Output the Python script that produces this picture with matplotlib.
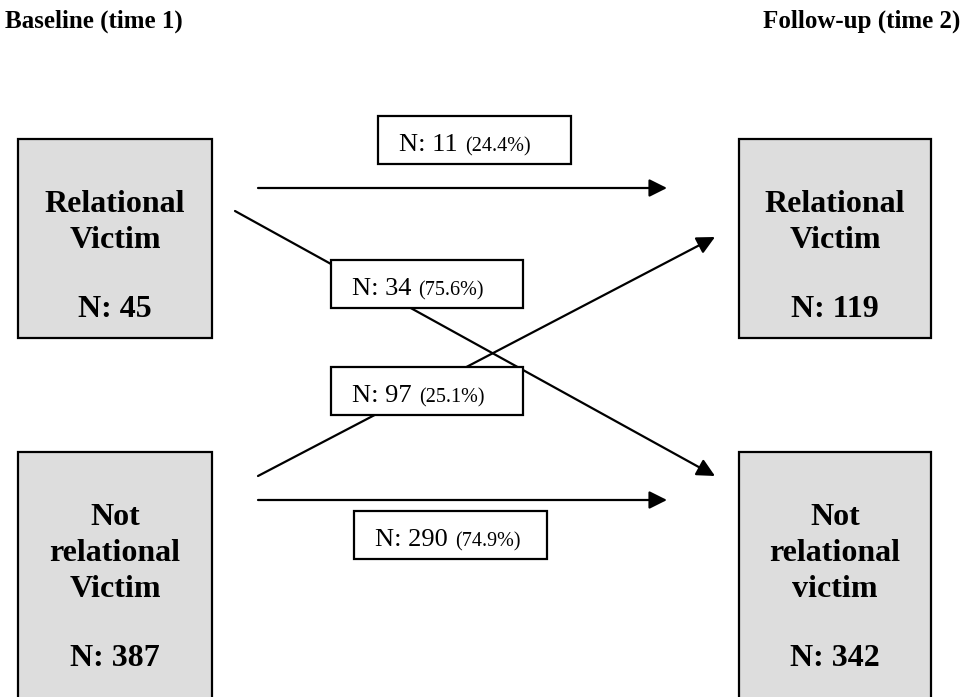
import matplotlib
matplotlib.use("Agg")
import matplotlib.pyplot as plt
from matplotlib.patches import Rectangle

# ---- data ----
titles = ["Baseline (time 1)", "Follow-up (time 2)"]
node_labels = [["Relational", "Victim"],
               ["Not", "relational", "Victim"],
               ["Relational", "Victim"],
               ["Not", "relational", "victim"]]
node_n = [45, 387, 119, 342]
flow_n = [11, 34, 97, 290]
flow_pct = [24.4, 75.6, 25.1, 74.9]

# ---- layout (pixels, y downward) ----
W, H = 965, 697
fig = plt.figure(figsize=(W / 100, H / 100), dpi=100)
ax = fig.add_axes([0, 0, 1, 1])
ax.set_xlim(0, W)
ax.set_ylim(H, 0)
ax.axis("off")

serif = "Liberation Serif"

ax.text(5, 28, titles[0], fontsize=18, fontweight="bold", family=serif,
        ha="left", va="baseline")
ax.text(960, 28, titles[1], fontsize=18, fontweight="bold", family=serif,
        ha="right", va="baseline")

# node boxes: (left, top, width, height, first baseline)
node_boxes = [(18, 139, 194, 199, 212),
              (18, 452, 194, 260, 525),
              (739, 139, 192, 199, 212),
              (739, 452, 192, 260, 525)]
line_gap = 36
for (x, y, w, h, b0), lines, n in zip(node_boxes, node_labels, node_n):
    ax.add_patch(Rectangle((x, y), w, h, facecolor="#dddddd",
                           edgecolor="black", lw=1.6, zorder=1))
    cx = x + w / 2
    for i, s in enumerate(lines):
        ax.text(cx, b0 + i * line_gap, s, fontsize=23, fontweight="bold",
                family=serif, ha="center", va="baseline", zorder=2)
    ax.text(cx, b0 + (len(lines) + 1) * line_gap - 3, f"N: {n}", fontsize=23,
            fontweight="bold", family=serif, ha="center", va="baseline",
            zorder=2)

# arrows: start, end
arrows = [((258, 188), (667, 188)),
          ((235, 211), (715, 476)),
          ((258, 476), (715, 237)),
          ((258, 500), (667, 500))]
for (s, e) in arrows:
    ax.annotate("", xy=e, xytext=s,
                arrowprops=dict(arrowstyle="-|>,head_length=0.4,head_width=0.2",
                                mutation_scale=27, lw=1.6, color="black",
                                shrinkA=0, shrinkB=0), zorder=1)

# flow label boxes: (left, top, width, height)
flow_boxes = [(378, 116, 193, 48),
              (331, 260, 192, 48),
              (331, 367, 192, 48),
              (354, 511, 193, 48)]
renderer = fig.canvas.get_renderer()
for (x, y, w, h), n, p in zip(flow_boxes, flow_n, flow_pct):
    ax.add_patch(Rectangle((x, y), w, h, facecolor="white",
                           edgecolor="black", lw=1.6, zorder=3))
    t = ax.text(x + 21, y + 35, f"N: {n}", fontsize=19, family=serif,
                ha="left", va="baseline", zorder=4)
    bb = t.get_window_extent(renderer)
    ax.text(x + 21 + bb.width + 7, y + 35, f"({p}%)", fontsize=14.5,
            family=serif, ha="left", va="baseline", zorder=4)

fig.savefig("out.png", dpi=100)
